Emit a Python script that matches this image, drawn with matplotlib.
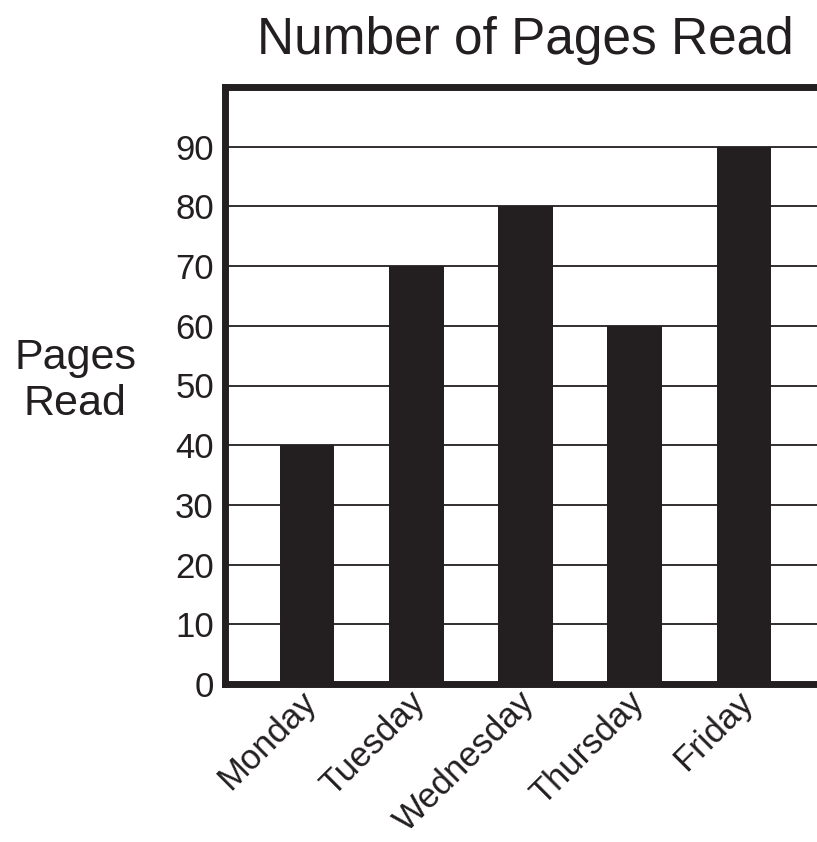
import matplotlib
matplotlib.use("Agg")
import matplotlib.pyplot as plt
import matplotlib.transforms as mtransforms

# data
days = ["Monday", "Tuesday", "Wednesday", "Thursday", "Friday"]
pages = [40, 70, 80, 60, 90]
yticks = [0, 10, 20, 30, 40, 50, 60, 70, 80, 90]

plt.rcParams['font.family'] = ['Liberation Sans', 'DejaVu Sans']
ink = '#231f20'

W, H = 817, 842
fig = plt.figure(figsize=(W / 100, H / 100), dpi=100)
# axes runs off the right edge like the original scan
ax = fig.add_axes([225 / W, (H - 684) / H, (826 - 225) / W, (684 - 87) / H])

x = list(range(len(days)))
ax.bar(x, pages, width=0.5, color=ink, zorder=3)

ax.set_xlim(-0.75, 4.75)
ax.set_ylim(0, 100)
ax.set_yticks(yticks)
ax.set_yticklabels([str(v) for v in yticks], fontsize=25)
ax.set_xticks(x)
ax.set_xticklabels(days, fontsize=25, rotation=45, ha='right', rotation_mode='anchor')
ax.tick_params(axis='both', length=0, colors=ink)
ax.tick_params(axis='y', pad=8)
ax.tick_params(axis='x', pad=6)

# nudge day labels up/left a bit
shift = mtransforms.ScaledTranslation(-8 / 100, 7 / 100, fig.dpi_scale_trans)
for lbl in ax.get_xticklabels():
    lbl.set_transform(lbl.get_transform() + shift)

ax.yaxis.grid(True, color=ink, linewidth=1.3, zorder=0)
ax.set_axisbelow(True)
for s in ['left', 'bottom', 'top', 'right']:
    ax.spines[s].set_linewidth(5)
    ax.spines[s].set_color(ink)

ax.set_title("Number of Pages Read", fontsize=37, color=ink, pad=24)
fig.text(75 / W, 1 - 381 / H, "Pages\nRead", fontsize=31, color=ink,
         ha='center', va='center', linespacing=1.2)

plt.savefig("out.png", dpi=100)
